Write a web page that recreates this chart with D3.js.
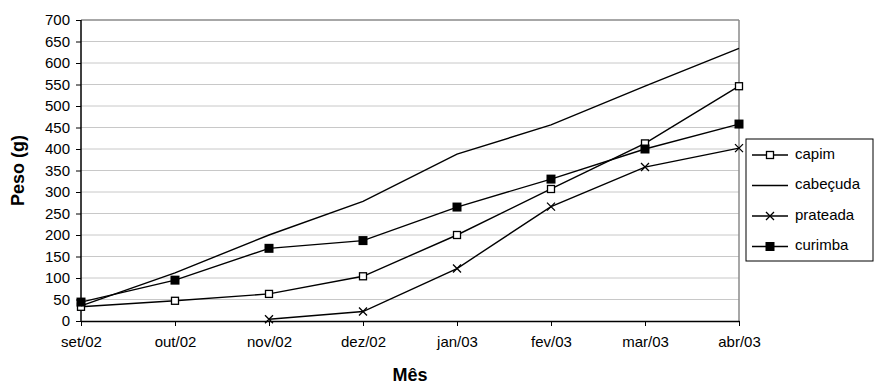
<!DOCTYPE html>
<html>
<head>
<meta charset="utf-8">
<script src="https://cdn.jsdelivr.net/npm/d3@7"></script>
<style>
  body { margin: 0; background: #fff; }
  svg { display: block; font-family: "Liberation Sans", Arial, sans-serif; }
</style>
</head>
<body>
<div id="chart"></div>
<script>
const months = ["set/02", "out/02", "nov/02", "dez/02", "jan/03", "fev/03", "mar/03", "abr/03"];
const capim = [33, 47, 63, 104, 200, 307, 413, 546];
const cabecuda = [35, 112, 200, 278, 388, 456, 546, 634];
const prateada = [null, null, 4, 22, 122, 266, 358, 402];
const curimba = [44, 95, 169, 187, 265, 330, 400, 458];
const yTicks = d3.range(0, 701, 50);

const series = [
  { name: "capim", values: capim, marker: "open" },
  { name: "cabeçuda", values: cabecuda, marker: "none" },
  { name: "prateada", values: prateada, marker: "cross" },
  { name: "curimba", values: curimba, marker: "filled" }
];

const width = 874, height = 387;
const margin = { top: 20, right: 135, bottom: 66, left: 81 };

const svg = d3.select("#chart").append("svg")
  .attr("width", width)
  .attr("height", height);

const x = d3.scalePoint()
  .domain(months)
  .range([margin.left, width - margin.right]);

const y = d3.scaleLinear()
  .domain([0, 700])
  .range([height - margin.bottom, margin.top]);

// gridlines
svg.append("g")
  .selectAll("line")
  .data(yTicks.filter(d => d > 0))
  .join("line")
  .attr("x1", margin.left)
  .attr("x2", width - margin.right)
  .attr("y1", d => y(d))
  .attr("y2", d => y(d))
  .attr("stroke", d => d === 700 ? "#8a8a8a" : "#c8c8c8")
  .attr("stroke-width", d => d === 700 ? 1.5 : 1);

// right border of plot area
svg.append("line")
  .attr("x1", width - margin.right)
  .attr("x2", width - margin.right)
  .attr("y1", y(700))
  .attr("y2", y(0))
  .attr("stroke", "#8a8a8a")
  .attr("stroke-width", 1.5);

// axes
const yAxis = svg.append("g")
  .attr("transform", `translate(${margin.left},0)`)
  .call(d3.axisLeft(y).tickValues(yTicks).tickSize(5).tickPadding(6).tickFormat(d3.format("d")));

const xAxis = svg.append("g")
  .attr("transform", `translate(0,${y(0)})`)
  .call(d3.axisBottom(x).tickSize(5).tickPadding(10).tickSizeOuter(0));

[yAxis, xAxis].forEach(g => {
  g.select(".domain").attr("stroke", "#000").attr("stroke-width", 1.5);
  g.selectAll(".tick line").attr("stroke", "#000");
  g.selectAll("text").attr("fill", "#000").style("font-size", "15px")
    .style("font-family", "'Liberation Sans', Arial, sans-serif");
});
yAxis.select(".domain").attr("d", `M0,${y(700)}V${y(0)}`);

// lines
const line = d3.line()
  .defined(d => d.v != null)
  .x(d => x(d.m))
  .y(d => y(d.v));

function drawMarker(g, type, cx, cy) {
  if (type === "open") {
    g.append("rect").attr("x", cx - 3.5).attr("y", cy - 3.5).attr("width", 7).attr("height", 7)
      .attr("fill", "#fff").attr("stroke", "#000").attr("stroke-width", 1.3);
  } else if (type === "filled") {
    g.append("rect").attr("x", cx - 4.5).attr("y", cy - 4.5).attr("width", 9).attr("height", 9)
      .attr("fill", "#000");
  } else if (type === "cross") {
    g.append("path").attr("d", `M${cx - 4},${cy - 4}L${cx + 4},${cy + 4}M${cx - 4},${cy + 4}L${cx + 4},${cy - 4}`)
      .attr("stroke", "#000").attr("stroke-width", 1.3).attr("fill", "none");
  }
}

series.forEach(s => {
  const pts = months.map((m, i) => ({ m, v: s.values[i] }));
  svg.append("path")
    .datum(pts)
    .attr("d", line)
    .attr("fill", "none")
    .attr("stroke", "#000")
    .attr("stroke-width", 1.4);
  const mg = svg.append("g");
  pts.filter(p => p.v != null).forEach(p => drawMarker(mg, s.marker, x(p.m), y(p.v)));
});

// axis titles
svg.append("text")
  .attr("transform", `translate(19,${(y(0) + y(700)) / 2}) rotate(-90)`)
  .attr("text-anchor", "middle")
  .attr("dominant-baseline", "middle")
  .style("font-size", "18px")
  .style("font-weight", "bold")
  .text("Peso (g)");

svg.append("text")
  .attr("x", (margin.left + width - margin.right) / 2)
  .attr("y", 381)
  .attr("text-anchor", "middle")
  .style("font-size", "18px")
  .style("font-weight", "bold")
  .text("Mês");

// legend
const legend = svg.append("g").attr("transform", "translate(746,139)");
legend.append("rect")
  .attr("width", 127).attr("height", 122)
  .attr("fill", "#fff").attr("stroke", "#000").attr("stroke-width", 1);

series.forEach((s, i) => {
  const ly = 16 + i * 30.5;
  const row = legend.append("g");
  row.append("line")
    .attr("x1", 6).attr("x2", 42).attr("y1", ly).attr("y2", ly)
    .attr("stroke", "#000").attr("stroke-width", 1.3);
  drawMarker(row, s.marker, 24, ly);
  row.append("text")
    .attr("x", 49).attr("y", ly)
    .attr("dominant-baseline", "middle")
    .style("font-size", "15px")
    .text(s.name);
});
</script>
</body>
</html>
